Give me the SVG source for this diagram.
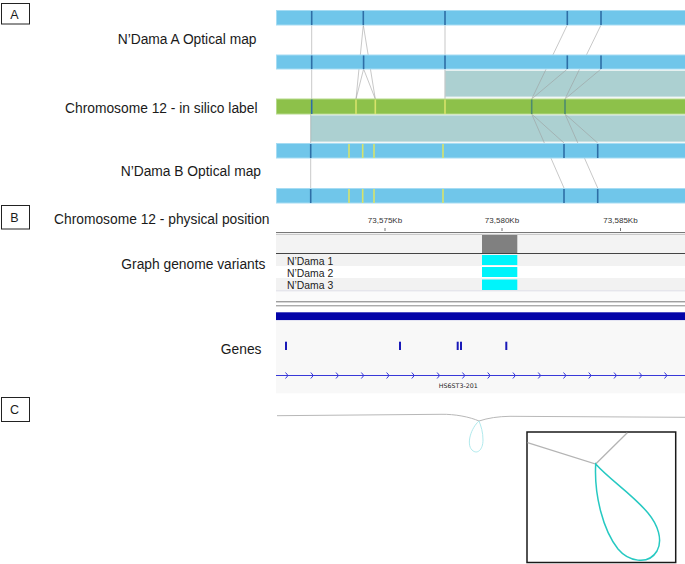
<svg xmlns="http://www.w3.org/2000/svg" width="685" height="564" viewBox="0 0 685 564">
<defs>
<style>
.lbl{font-family:"Liberation Sans",Arial,sans-serif;font-size:13.8px;fill:#1a1a1a;text-anchor:end}
.pl{font-family:"Liberation Sans",Arial,sans-serif;font-size:12.5px;fill:#1a1a1a;text-anchor:middle}
.pbox{fill:#fff;stroke:#222;stroke-width:1}
.bar{fill:#70c6ea;stroke:#a6dcf3;stroke-width:1}
.gbar{fill:#8dc14a;stroke:#b5d98a;stroke-width:1}
.band{fill:#acd0d1;stroke:#e6f0f0;stroke-width:1}
.mk{stroke:#2e6ea6;stroke-width:1.6}
.ym{stroke:#d7e36a;stroke-width:1.6}
.gm{stroke:#4d8b6e;stroke-width:1.6}
.cn{stroke:#9a9a9a;stroke-opacity:0.55;stroke-width:1;fill:none}
.tick{font-family:"Liberation Sans",Arial,sans-serif;font-size:8px;fill:#333;text-anchor:middle}
.sm{font-family:"Liberation Sans",Arial,sans-serif;font-size:10.4px;fill:#222}
.cy{fill:#00f4fb}
.gt{fill:#1a1ab8}
</style>
</defs>
<rect width="685" height="564" fill="#fff"/>

<g id="panel-labels">
<rect class="pbox" x="1.5" y="3.5" width="28" height="20.5"/>
<text class="pl" x="14.5" y="18.5">A</text>
<rect class="pbox" x="1.5" y="205.5" width="28" height="23.5"/>
<text class="pl" x="14.5" y="222">B</text>
<rect class="pbox" x="1.5" y="397.5" width="28" height="24"/>
<text class="pl" x="14.5" y="414">C</text>
</g>

<g id="track-labels">
<text class="lbl" x="256.5" y="44">N’Dama A Optical map</text>
<text class="lbl" x="257.5" y="113">Chromosome 12 - in silico label</text>
<text class="lbl" x="261" y="176">N’Dama B Optical map</text>
<text class="lbl" x="269.5" y="224">Chromosome 12 - physical position</text>
<text class="lbl" x="265.5" y="269">Graph genome variants</text>
<text class="lbl" x="261.5" y="354">Genes</text>
</g>

<g id="alignment-bands">
<rect class="band" x="445" y="70.5" width="241" height="26.5"/>
<rect class="band" x="310.5" y="115" width="376" height="27"/>
</g>

<g id="connectors">
<line class="cn" x1="311.7" y1="25" x2="311.7" y2="99"/>
<line class="cn" x1="363.3" y1="25" x2="356" y2="99"/>
<line class="cn" x1="363.3" y1="25" x2="375.3" y2="99"/>
<line class="cn" x1="363.6" y1="69" x2="356" y2="99"/>
<line class="cn" x1="363.6" y1="69" x2="375.3" y2="99"/>
<line class="cn" x1="445" y1="25" x2="445" y2="99"/>
<line class="cn" x1="567.3" y1="25" x2="531.7" y2="99"/>
<line class="cn" x1="601" y1="25" x2="565" y2="99"/>
<line class="cn" x1="567.3" y1="69" x2="531.7" y2="99"/>
<line class="cn" x1="601" y1="69" x2="565" y2="99"/>
<line class="cn" x1="310.7" y1="114" x2="310.7" y2="188"/>
<line class="cn" x1="531.7" y1="114" x2="564" y2="143"/>
<line class="cn" x1="531.7" y1="114" x2="564" y2="188"/>
<line class="cn" x1="565" y1="114" x2="597.7" y2="143"/>
<line class="cn" x1="565" y1="114" x2="597.7" y2="188"/>
</g>

<g id="ndama-a-map-1">
<rect class="bar" x="276.5" y="10.5" width="410" height="14.5"/>
<line class="mk" x1="311.7" y1="11" x2="311.7" y2="25"/>
<line class="mk" x1="363.3" y1="11" x2="363.3" y2="25"/>
<line class="mk" x1="445" y1="11" x2="445" y2="25"/>
<line class="mk" x1="567.3" y1="11" x2="567.3" y2="25"/>
<line class="mk" x1="601" y1="11" x2="601" y2="25"/>
</g>
<g id="ndama-a-map-2">
<rect class="bar" x="276.5" y="55" width="410" height="14"/>
<line class="mk" x1="311.7" y1="55.5" x2="311.7" y2="69"/>
<line class="mk" x1="363.6" y1="55.5" x2="363.6" y2="69"/>
<line class="mk" x1="445" y1="55.5" x2="445" y2="69"/>
<line class="mk" x1="567.3" y1="55.5" x2="567.3" y2="69"/>
<line class="mk" x1="601" y1="55.5" x2="601" y2="69"/>
</g>
<g id="chr12-in-silico">
<rect class="gbar" x="276.5" y="99" width="410" height="15"/>
<line class="mk" x1="311.7" y1="99.5" x2="311.7" y2="114"/>
<line class="ym" x1="356" y1="99.5" x2="356" y2="114"/>
<line class="ym" x1="375.3" y1="99.5" x2="375.3" y2="114"/>
<line class="ym" x1="445" y1="99.5" x2="445" y2="114"/>
<line class="gm" x1="531.7" y1="99.5" x2="531.7" y2="114"/>
<line class="gm" x1="565" y1="99.5" x2="565" y2="114"/>
</g>
<g id="ndama-b-map-1">
<rect class="bar" x="276.5" y="143.5" width="410" height="14.5"/>
<line class="mk" x1="310.7" y1="144" x2="310.7" y2="158"/>
<line class="ym" x1="349" y1="144" x2="349" y2="158"/>
<line class="ym" x1="362.7" y1="144" x2="362.7" y2="158"/>
<line class="ym" x1="374" y1="144" x2="374" y2="158"/>
<line class="ym" x1="443" y1="144" x2="443" y2="158"/>
<line class="mk" x1="564" y1="144" x2="564" y2="158"/>
<line class="mk" x1="597.7" y1="144" x2="597.7" y2="158"/>
</g>
<g id="ndama-b-map-2">
<rect class="bar" x="276.5" y="188.5" width="410" height="14.5"/>
<line class="mk" x1="310.7" y1="189" x2="310.7" y2="203"/>
<line class="ym" x1="349" y1="189" x2="349" y2="203"/>
<line class="ym" x1="362.7" y1="189" x2="362.7" y2="203"/>
<line class="ym" x1="374" y1="189" x2="374" y2="203"/>
<line class="ym" x1="443" y1="189" x2="443" y2="203"/>
<line class="mk" x1="564" y1="189" x2="564" y2="203"/>
<line class="mk" x1="597.7" y1="189" x2="597.7" y2="203"/>
</g>

<g id="ruler">
<text class="tick" x="385" y="222.5">73,575Kb</text>
<text class="tick" x="502" y="222.5">73,580Kb</text>
<text class="tick" x="620.5" y="222.5">73,585Kb</text>
<line x1="385" y1="228" x2="385" y2="231" stroke="#777" stroke-width="1"/>
<line x1="502" y1="228" x2="502" y2="231" stroke="#777" stroke-width="1"/>
<line x1="620.5" y1="228" x2="620.5" y2="231" stroke="#777" stroke-width="1"/>
<line x1="276" y1="232.5" x2="685" y2="232.5" stroke="#777" stroke-width="1"/>
<line x1="276" y1="234.3" x2="685" y2="234.3" stroke="#aaa" stroke-width="0.8"/>
</g>

<g id="graph-variants">
<rect x="276" y="235" width="409" height="18.5" fill="#f3f3f3"/>
<rect x="482" y="235" width="35.3" height="18" fill="#808080"/>
<line x1="276" y1="253.5" x2="685" y2="253.5" stroke="#444" stroke-width="1"/>
<rect x="276" y="254" width="409" height="12" fill="#f2f2f2"/>
<rect x="276" y="278" width="409" height="12.5" fill="#f2f2f2"/>
<line x1="276" y1="291" x2="685" y2="291" stroke="#d4d4e0" stroke-width="1"/>
<rect x="276" y="291.5" width="409" height="9.5" fill="#fbfbfb"/>
<rect class="cy" x="482" y="255" width="35.3" height="10"/>
<rect class="cy" x="482" y="267" width="35.3" height="10"/>
<rect class="cy" x="482" y="279.5" width="35.3" height="10.5"/>
<text class="sm" x="287" y="265">N’Dama 1</text>
<text class="sm" x="287" y="277">N’Dama 2</text>
<text class="sm" x="287" y="289">N’Dama 3</text>
<line x1="276" y1="301.8" x2="685" y2="301.8" stroke="#777" stroke-width="1"/>
<line x1="276" y1="305.8" x2="685" y2="305.8" stroke="#888" stroke-width="1"/>
</g>

<g id="genes">
<rect x="276" y="312.3" width="409" height="8" fill="#0404a8"/>
<rect x="276" y="320.3" width="409" height="73" fill="#f8f8f8"/>
<rect class="gt" x="285" y="341.7" width="2" height="8.3"/>
<rect class="gt" x="399" y="341.7" width="2" height="8.3"/>
<rect class="gt" x="456.7" y="341.7" width="2" height="8.3"/>
<rect class="gt" x="460" y="341.7" width="2" height="8.3"/>
<rect class="gt" x="505.3" y="341.7" width="2" height="8.3"/>
<line x1="276" y1="375.5" x2="685" y2="375.5" stroke="#3838d8" stroke-width="1"/>
<g fill="none" stroke="#3838d8" stroke-width="1">
<path d="M285.5,372.5 L288,375.5 L285.5,378.5"/>
<path d="M310.8,372.5 L313.3,375.5 L310.8,378.5"/>
<path d="M336,372.5 L338.5,375.5 L336,378.5"/>
<path d="M361.3,372.5 L363.8,375.5 L361.3,378.5"/>
<path d="M386.6,372.5 L389.1,375.5 L386.6,378.5"/>
<path d="M411.8,372.5 L414.3,375.5 L411.8,378.5"/>
<path d="M437.1,372.5 L439.6,375.5 L437.1,378.5"/>
<path d="M462.4,372.5 L464.9,375.5 L462.4,378.5"/>
<path d="M487.7,372.5 L490.2,375.5 L487.7,378.5"/>
<path d="M512.9,372.5 L515.4,375.5 L512.9,378.5"/>
<path d="M538.2,372.5 L540.7,375.5 L538.2,378.5"/>
<path d="M563.5,372.5 L566,375.5 L563.5,378.5"/>
<path d="M588.7,372.5 L591.2,375.5 L588.7,378.5"/>
<path d="M614,372.5 L616.5,375.5 L614,378.5"/>
<path d="M639.3,372.5 L641.8,375.5 L639.3,378.5"/>
<path d="M664.5,372.5 L667,375.5 L664.5,378.5"/>
</g>
<text x="458.3" y="388" font-family="'DejaVu Sans',Verdana,sans-serif" font-size="6.3" fill="#222" text-anchor="middle">HS6ST3-201</text>
</g>

<g id="graph-path">
<path d="M277,415.7 L441,414.3 C455,414 470,417 479,421 C488,418 498,416.5 510,416.3 L685,417.3" fill="none" stroke="#b8b8b8" stroke-width="1"/>
<path d="M479,421 C471,428 466,444 472,450 C477,455 483,450 483,440 C483,432 481,426 479,421 Z" fill="none" stroke="#a8e6ea" stroke-width="0.9"/>
</g>

<g id="inset">
<rect x="527" y="432" width="148.7" height="130.5" fill="#fff" stroke="#1a1a1a" stroke-width="1.5"/>
<path d="M527.5,442.7 L595.7,464 L627.3,432.7" fill="none" stroke="#b4b4b4" stroke-width="1.3"/>
<path d="M595.7,464 C594,495 603,530 618,549 C628,561 648,566 657,551 C663,540 658,525 648,513 C632,494 610,480 595.7,464 Z" fill="none" stroke="#26c9c2" stroke-width="1.5"/>
</g>
</svg>
